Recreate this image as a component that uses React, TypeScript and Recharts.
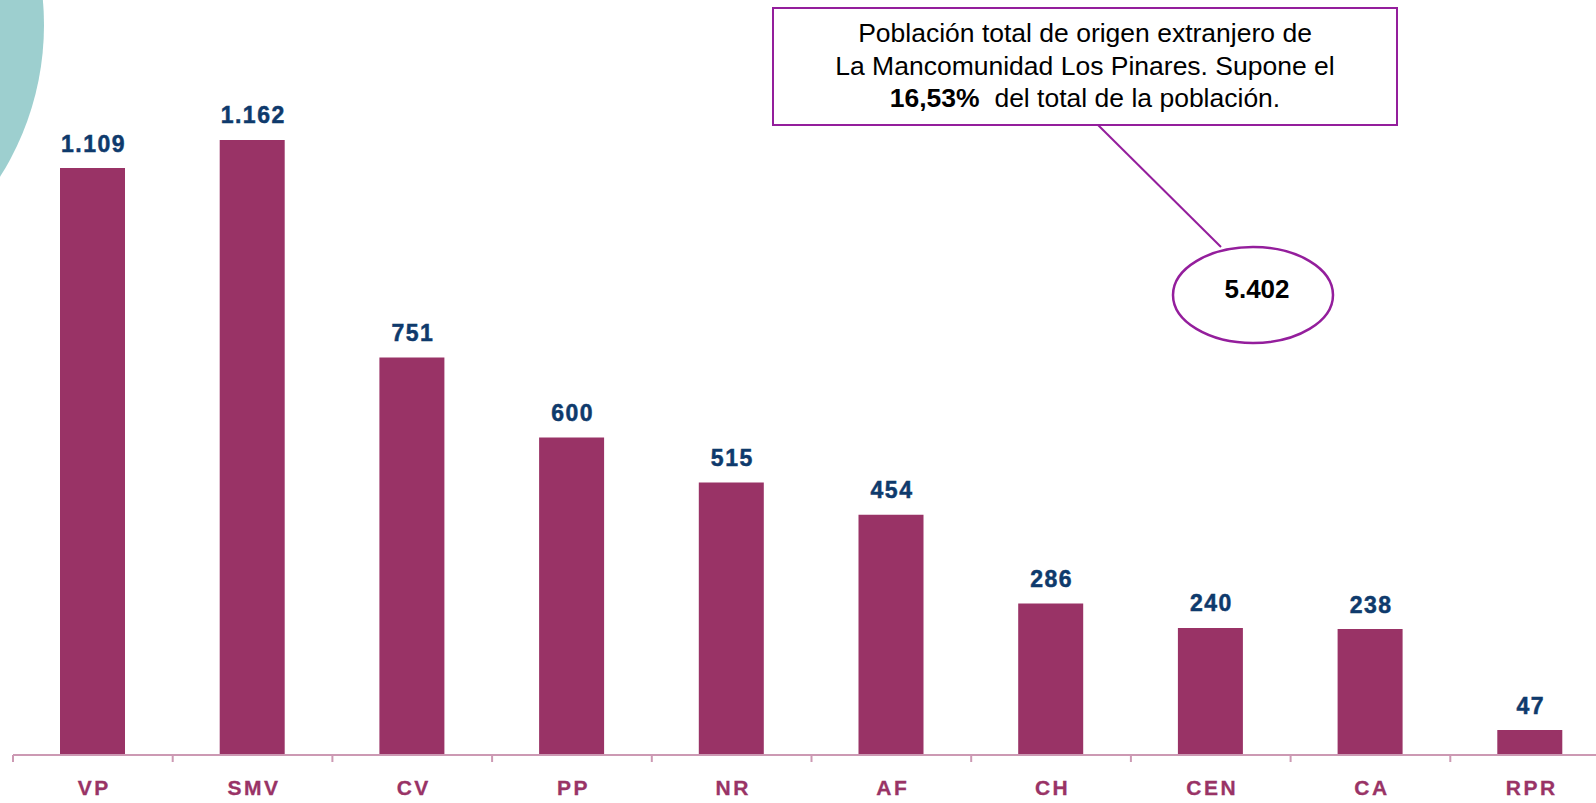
import React from "react";
import { BarChart, Bar, XAxis, YAxis, LabelList } from "recharts";

const categories = ["VP", "SMV", "CV", "PP", "NR", "AF", "CH", "CEN", "CA", "RPR"];
const values = [1109, 1162, 751, 600, 515, 454, 286, 240, 238, 47];
const calloutLines = [
  "Población total de origen extranjero de",
  "La Mancomunidad Los Pinares. Supone el",
];
const calloutPercent = "16,53%";
const calloutTail = " del total de la población.";
const totalLabel = "5.402";

const data = categories.map((c, i) => ({ name: c, value: values[i] }));

const FONT = "'Liberation Sans', Arial, sans-serif";
const BAR = "#993366";
const NAVY = "#0E3A6C";
const PURPLE = "#941E9C";
const AXIS = "#CC99B3";

const fmt = (v: number) => String(v).replace(/\B(?=(\d{3})+(?!\d))/g, ".");

const ValueLabel = (props: any) => {
  const { x, y, width, value } = props;
  return (
    <text
      x={Number(x) + Number(width) / 2 + 1}
      y={Number(y) - 16.5}
      textAnchor="middle"
      fill={NAVY}
      fontFamily={FONT}
      fontWeight="bold"
      fontSize={23}
      letterSpacing={1.5}
      stroke={NAVY}
      strokeWidth={0.5}
    >
      {fmt(Number(value))}
    </text>
  );
};

const CatTick = (props: any) => {
  const { x, y, payload } = props;
  const half = Number(payload?.offset) || 0;
  const bx = Number(x) - half;
  return (
    <g>
      <line x1={bx} y1={Number(y)} x2={bx} y2={Number(y) + 7} stroke={AXIS} strokeWidth={2} />
      <text
        x={Number(x) + 1.5}
        y={Number(y) + 40}
        textAnchor="middle"
        fill={BAR}
        fontFamily={FONT}
        fontWeight="bold"
        fontSize={21}
        letterSpacing={2.5}
        stroke={BAR}
        strokeWidth={0.3}
      >
        {payload.value}
      </text>
    </g>
  );
};

export default function App() {
  return (
    <div
      style={{
        position: "fixed",
        left: 0,
        top: 0,
        width: 1596,
        height: 803,
        overflow: "hidden",
        background: "#fff",
      }}
    >
      <svg
        width={1596}
        height={803}
        style={{ position: "absolute", left: 0, top: 0 }}
      >
        <circle cx={-240} cy={25} r={284} fill="#9DCFCF" />
      </svg>
      <div style={{ position: "absolute", left: 0, top: 0 }}>
        <BarChart
          width={1620}
          height={803}
          data={data}
          margin={{ top: 14, right: 10, bottom: 47, left: 13 }}
          barSize={65}
        >
          <YAxis hide domain={[0, 1400]} />
          <XAxis
            dataKey="name"
            axisLine={{ stroke: AXIS, strokeWidth: 2 }}
            tickLine={false}
            tickSize={0}
            tickMargin={0}
            tick={<CatTick />}
            height={1}
            interval={0}
          />
          <Bar dataKey="value" fill={BAR} isAnimationActive={false}>
            <LabelList dataKey="value" content={<ValueLabel />} />
          </Bar>
        </BarChart>
      </div>
      <svg
        width={1596}
        height={803}
        style={{ position: "absolute", left: 0, top: 0, pointerEvents: "none" }}
        fontFamily={FONT}
      >
        <rect x={773} y={8} width={624} height={117} fill="#fff" stroke={PURPLE} strokeWidth={2} />
        <line x1={1098} y1={125} x2={1221} y2={247} stroke={PURPLE} strokeWidth={2} />
        <ellipse cx={1253} cy={295} rx={80} ry={48} fill="#fff" stroke={PURPLE} strokeWidth={2.5} />
        <text x={1085} y={42} textAnchor="middle" fontSize={26.5} fill="#000">
          {calloutLines[0]}
        </text>
        <text x={1085} y={75} textAnchor="middle" fontSize={26.5} fill="#000">
          {calloutLines[1]}
        </text>
        <text x={1085} y={107} textAnchor="middle" fontSize={26.5} fill="#000" xmlSpace="preserve">
          <tspan fontWeight="bold">{calloutPercent}</tspan>
          <tspan>{" " + calloutTail}</tspan>
        </text>
        <text x={1257} y={298} textAnchor="middle" fontSize={26} fontWeight="bold" fill="#000">
          {totalLabel}
        </text>
      </svg>
    </div>
  );
}
